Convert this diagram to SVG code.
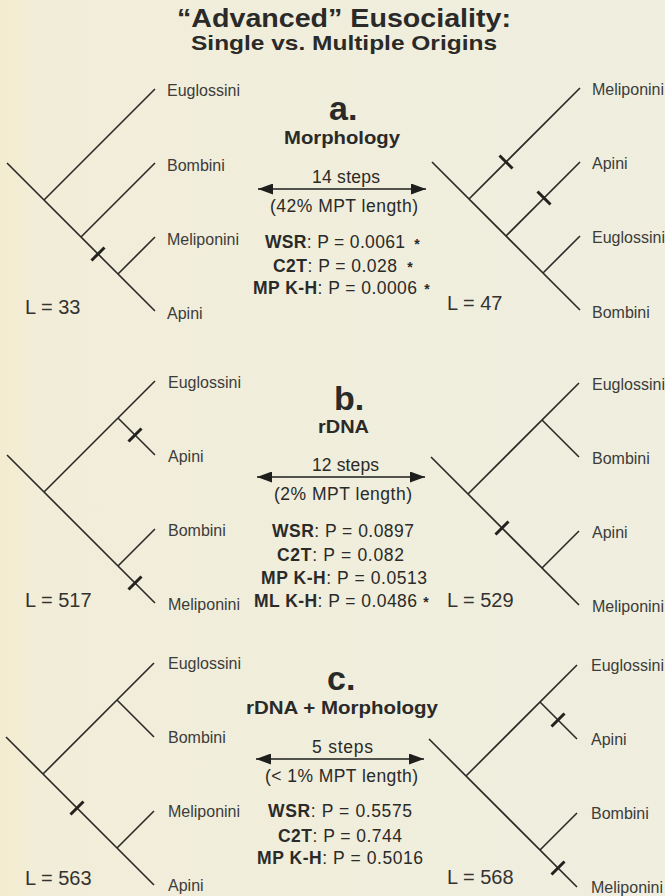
<svg xmlns="http://www.w3.org/2000/svg" width="665" height="896" viewBox="0 0 665 896">
<defs>
<linearGradient id="bg" x1="0" y1="0" x2="1" y2="0">
<stop offset="0" stop-color="#f4ecd0"/>
<stop offset="0.07" stop-color="#f1edd9"/>
<stop offset="1" stop-color="#efeedf"/>
</linearGradient>
<marker id="ah" viewBox="0 0 15 11" markerUnits="userSpaceOnUse" markerWidth="15" markerHeight="11" refX="15" refY="5.5" orient="auto-start-reverse">
<path d="M0,0 L15,5.5 L0,11 z" fill="#1e1e1c"/>
</marker>
</defs>
<style>
.br{stroke:#2b2a26;stroke-width:1.6;fill:none;stroke-linecap:butt}
.tk{stroke:#23221f;stroke-width:3;fill:none}
.ar{stroke:#1e1e1c;stroke-width:1.3;fill:none}
text{font-family:"Liberation Sans",Arial,sans-serif;fill:#2a2a28}
.lab{font-size:16px;fill:#3c3c3a}
.big{font-size:34px;font-weight:bold}
.hd{font-size:17.5px;font-weight:bold}
.st{font-size:17.5px}
.b{font-weight:bold}
.ast{font-size:14px;font-weight:bold;text-anchor:middle}
.L{font-size:20px;fill:#333331}
.t1{font-size:26px;font-weight:bold}
.t2{font-size:21px;font-weight:bold}
</style>
<rect width="665" height="896" fill="url(#bg)"/>

<g id="title">
<text class="t1" x="177" y="27" textLength="334" lengthAdjust="spacingAndGlyphs">“Advanced” Eusociality:</text>
<text class="t2" x="191" y="50" textLength="306" lengthAdjust="spacingAndGlyphs">Single vs. Multiple Origins</text>
</g>

<!-- Panel a -->
<g id="tree-a-left">
<path class="br" d="M7,163 L155,311 M44,200 L155,89 M81,237 L155,163 M118,274 L155,237"/>
<path class="tk" d="M91.5,260.5 L104.5,247.5"/>
<text class="lab" x="167" y="96">Euglossini</text>
<text class="lab" x="167" y="171">Bombini</text>
<text class="lab" x="167" y="245">Meliponini</text>
<text class="lab" x="167" y="319">Apini</text>
<text class="L" x="25" y="314">L = 33</text>
</g>
<g id="tree-a-right">
<path class="br" d="M432,162 L580,310 M469,199 L580,88 M506,236 L580,162 M543,273 L580,236"/>
<path class="tk" d="M499.5,155.5 L512.5,168.5 M537.5,191.5 L550.5,204.5"/>
<text class="lab" x="592" y="95">Meliponini</text>
<text class="lab" x="592" y="169">Apini</text>
<text class="lab" x="592" y="243">Euglossini</text>
<text class="lab" x="592" y="318">Bombini</text>
<text class="L" x="447" y="310">L = 47</text>
</g>
<g id="panel-a">
<text class="big" x="329" y="120">a.</text>
<text class="hd" x="284" y="144" textLength="116" lengthAdjust="spacingAndGlyphs">Morphology</text>
<text class="st" x="312" y="183" textLength="68">14 steps</text>
<text class="st" x="270" y="212" textLength="148">(42% MPT length)</text>
<text class="st" x="265" y="248" textLength="140"><tspan class="b">WSR</tspan>: P = 0.0061</text>
<text class="ast" x="417" y="249">*</text>
<text class="st" x="273" y="272" textLength="124"><tspan class="b">C2T</tspan>: P = 0.028</text>
<text class="ast" x="410" y="272">*</text>
<text class="st" x="253" y="294" textLength="164"><tspan class="b">MP K-H</tspan>: P = 0.0006</text>
<text class="ast" x="427" y="294">*</text>
</g>

<!-- Panel b -->
<g id="tree-b-left">
<path class="br" d="M7,455 L155,603 M44,492 L155,381 M118,418 L155,455 M118,566 L155,529"/>
<path class="tk" d="M128.5,441.5 L141.5,428.5 M128.5,589.5 L141.5,576.5"/>
<text class="lab" x="168" y="388">Euglossini</text>
<text class="lab" x="168" y="462">Apini</text>
<text class="lab" x="168" y="536">Bombini</text>
<text class="lab" x="168" y="610">Meliponini</text>
<text class="L" x="25" y="607">L = 517</text>
</g>
<g id="tree-b-right">
<path class="br" d="M431,457 L579,605 M468,494 L579,383 M542,420 L579,457 M542,568 L579,531"/>
<path class="tk" d="M495.5,534.5 L508.5,521.5"/>
<text class="lab" x="592" y="390">Euglossini</text>
<text class="lab" x="592" y="464">Bombini</text>
<text class="lab" x="592" y="538">Apini</text>
<text class="lab" x="592" y="612">Meliponini</text>
<text class="L" x="447" y="607">L = 529</text>
</g>
<g id="panel-b">
<text class="big" x="334" y="410">b.</text>
<text class="hd" x="318" y="433" textLength="51" lengthAdjust="spacingAndGlyphs">rDNA</text>
<text class="st" x="312" y="471" textLength="67">12 steps</text>
<text class="st" x="274" y="500" textLength="138">(2% MPT length)</text>
<text class="st" x="272" y="537" textLength="142"><tspan class="b">WSR</tspan>: P = 0.0897</text>
<text class="st" x="277" y="561" textLength="127"><tspan class="b">C2T</tspan>: P = 0.082</text>
<text class="st" x="261" y="584" textLength="166"><tspan class="b">MP K-H</tspan>: P = 0.0513</text>
<text class="st" x="254" y="607" textLength="163"><tspan class="b">ML K-H</tspan>: P = 0.0486</text>
<text class="ast" x="426" y="607">*</text>
</g>

<!-- Panel c -->
<g id="tree-c-left">
<path class="br" d="M6,737 L154,885 M43,774 L154,663 M117,700 L154,737 M117,848 L154,811"/>
<path class="tk" d="M70.5,814.5 L83.5,801.5"/>
<text class="lab" x="168" y="669">Euglossini</text>
<text class="lab" x="168" y="743">Bombini</text>
<text class="lab" x="168" y="817">Meliponini</text>
<text class="lab" x="168" y="891">Apini</text>
<text class="L" x="25" y="885">L = 563</text>
</g>
<g id="tree-c-right">
<path class="br" d="M429,739 L577,887 M466,776 L577,665 M540,702 L577,739 M540,850 L577,813"/>
<path class="tk" d="M551.5,726.5 L564.5,713.5 M551.5,874.5 L564.5,861.5"/>
<text class="lab" x="591" y="671">Euglossini</text>
<text class="lab" x="591" y="745">Apini</text>
<text class="lab" x="591" y="819">Bombini</text>
<text class="lab" x="591" y="893">Meliponini</text>
<text class="L" x="447" y="884">L = 568</text>
</g>
<g id="panel-c">
<text class="big" x="327" y="690">c.</text>
<text class="hd" x="246" y="714" textLength="192" lengthAdjust="spacingAndGlyphs">rDNA + Morphology</text>
<text class="st" x="312" y="753" textLength="61">5 steps</text>
<text class="st" x="265" y="782" textLength="153">(&lt; 1% MPT length)</text>
<text class="st" x="268" y="817" textLength="144"><tspan class="b">WSR</tspan>: P = 0.5575</text>
<text class="st" x="278" y="842" textLength="124"><tspan class="b">C2T</tspan>: P = 0.744</text>
<text class="st" x="257" y="864" textLength="166"><tspan class="b">MP K-H</tspan>: P = 0.5016</text>
</g>

<g id="connectors">
<line class="ar" x1="258" y1="189" x2="426" y2="189" marker-start="url(#ah)" marker-end="url(#ah)"/>
<line class="ar" x1="257" y1="477" x2="425" y2="477" marker-start="url(#ah)" marker-end="url(#ah)"/>
<line class="ar" x1="256" y1="759" x2="424" y2="759" marker-start="url(#ah)" marker-end="url(#ah)"/>
</g>
</svg>
